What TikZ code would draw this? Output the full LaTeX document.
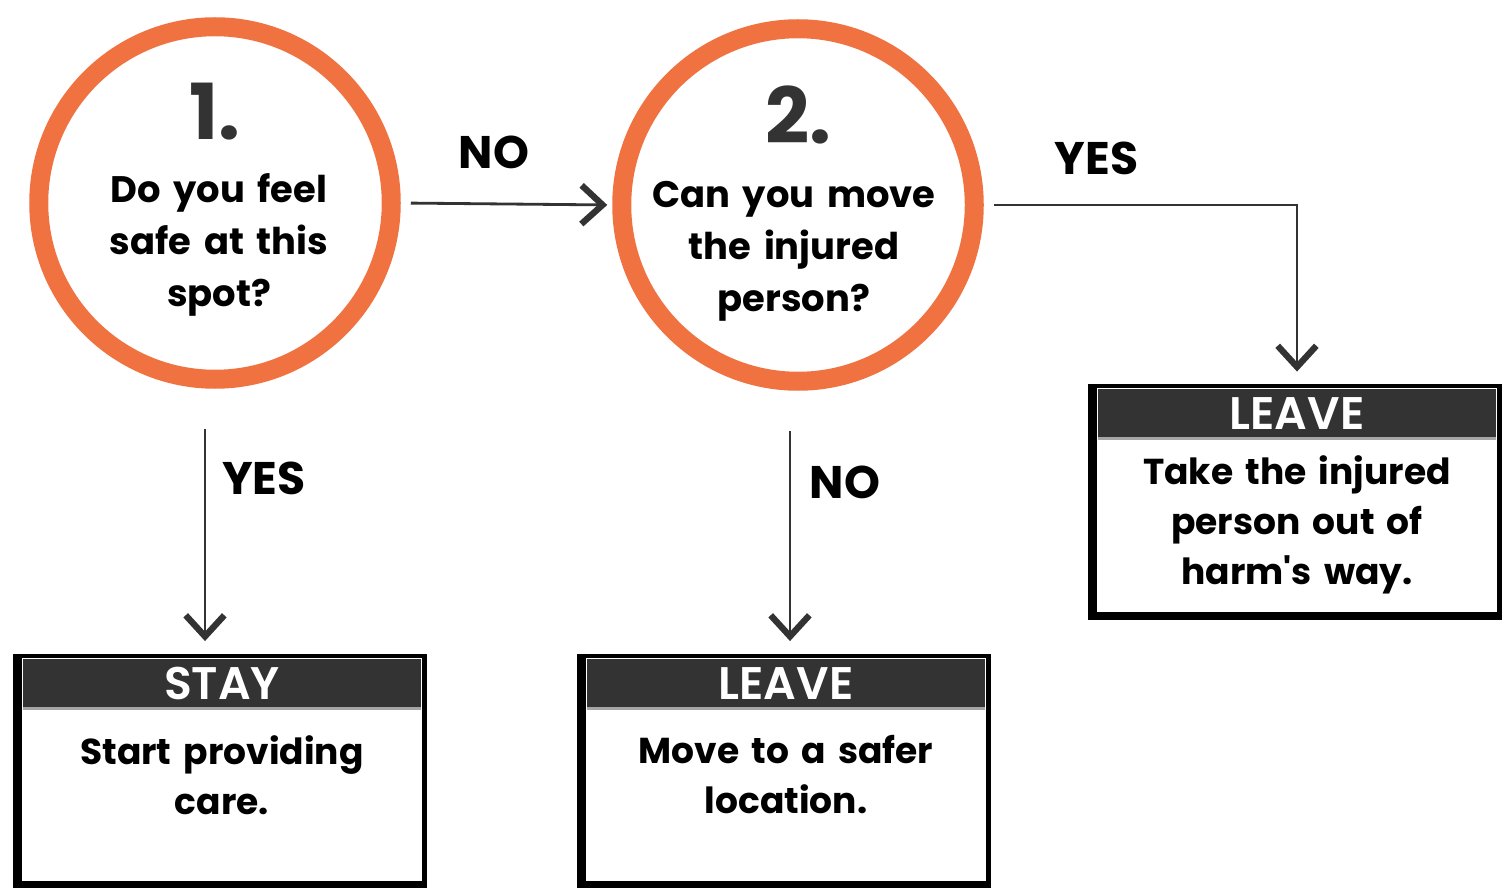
\documentclass[tikz,border=0pt]{standalone}
\usepackage{fontspec}
\setmainfont{Poppins}[WordSpace=1.6]
\newfontfamily\headfont{Poppins SemiBold}[WordSpace=1.6]
\usetikzlibrary{positioning,calc,arrows.meta}
\definecolor{brushorange}{HTML}{F07241}
\definecolor{inkgray}{HTML}{333333}

\begin{document}
\begin{tikzpicture}[
    qcircle/.style={draw=brushorange, line width=0.38cm, circle, minimum size=7.05cm, inner sep=0pt},
    qnum/.style={font=\fontsize{44}{44}\selectfont\bfseries, text=inkgray},
    qtext/.style={font=\fontsize{21}{29.5}\selectfont\bfseries, align=center},
    outbox/.style={draw=black, line width=2.5pt, minimum width=8.1cm, minimum height=4.55cm, inner sep=0pt},
    outhead/.style={fill=inkgray, minimum width=7.95cm, minimum height=0.98cm, text=white, font=\headfont\fontsize{26}{26}\selectfont, inner sep=0pt},
    outtext/.style={font=\fontsize{20.5}{28.5}\selectfont\bfseries, align=center},
    flow/.style={draw=inkgray, line width=1.6pt, -{Straight Barb[length=12pt,width=22pt,line width=3.6pt]}},
    answer/.style={font=\fontsize{26}{26}\selectfont\bfseries}
]
    \useasboundingbox (0,0) rectangle (30.06,-17.76);

    % questions
    \node [qcircle] (q1) at (4.30,-4.06) {};
    \node [qcircle] (q2) at (15.96,-4.10) {};
    \node [qnum] (n1) at ([yshift=1.82cm]q1.center) {1.};
    \node [qnum] (n2) at ([yshift=1.80cm]q2.center) {2.};
    \node [qtext] (t1) at ([xshift=0.08cm, yshift=-0.84cm]q1.center) {Do you feel\\safe at this\\spot?};
    \node [qtext] (t2) at ([xshift=-0.08cm, yshift=-0.92cm]q2.center) {Can you move\\the injured\\person?};

    % outcomes
    \node [outbox] (stay) at (4.44,-15.39) {};
    \node [outbox] (leave1) at (15.72,-15.39) {};
    \node [outbox] (leave2) at (25.94,-10.00) {};
    \foreach \b in {stay,leave1,leave2}
        \draw [line width=4.5pt] (\b.north west) -- (\b.south west) -- (\b.south east);
    \node [outhead, anchor=north] (h1) at ([yshift=-0.1cm]stay.north) {STAY};
    \node [outhead, anchor=north] (h2) at ([yshift=-0.1cm]leave1.north) {LEAVE};
    \node [outhead, anchor=north] (h3) at ([yshift=-0.1cm]leave2.north) {LEAVE};
    \draw [gray!70, line width=1.5pt] (h1.south west) -- (h1.south east);
    \draw [gray!70, line width=1.5pt] (h2.south west) -- (h2.south east);
    \draw [gray!70, line width=1.5pt] (h3.south west) -- (h3.south east);
    \node [outtext, below=0.42cm of h1] (b1) {Start providing\\care.};
    \node [outtext, below=0.42cm of h2] (b2) {Move to a safer\\location.};
    \node [outtext, below=0.22cm of h3] (b3) {Take the injured\\person out of\\harm\textquotesingle s way.};

    % connectors
    \draw [flow, shorten <=0.2cm, shorten >=0.1cm] (q1.east) -- (q2.west)
        node [answer, midway, above=0.55cm, xshift=-0.25cm] (no1) {NO};
    \draw [flow, shorten <=0.2cm, shorten >=0.25cm] (q2.east) -| (leave2.north)
        node [answer, pos=0.18, above=0.45cm] (yes2) {YES};
    \draw [flow, shorten <=0.8cm, shorten >=0.25cm] ([xshift=-0.2cm]q1.south) -- ([xshift=-0.2cm]q1.south |- stay.north)
        node [answer, pos=0.34, right=0.2cm] (yes1) {YES};
    \draw [flow, shorten <=0.8cm, shorten >=0.25cm] ([xshift=-0.16cm]q2.south) -- ([xshift=-0.16cm]q2.south |- leave1.north)
        node [answer, pos=0.35, right=0.25cm] (no2) {NO};
\end{tikzpicture}
\end{document}
